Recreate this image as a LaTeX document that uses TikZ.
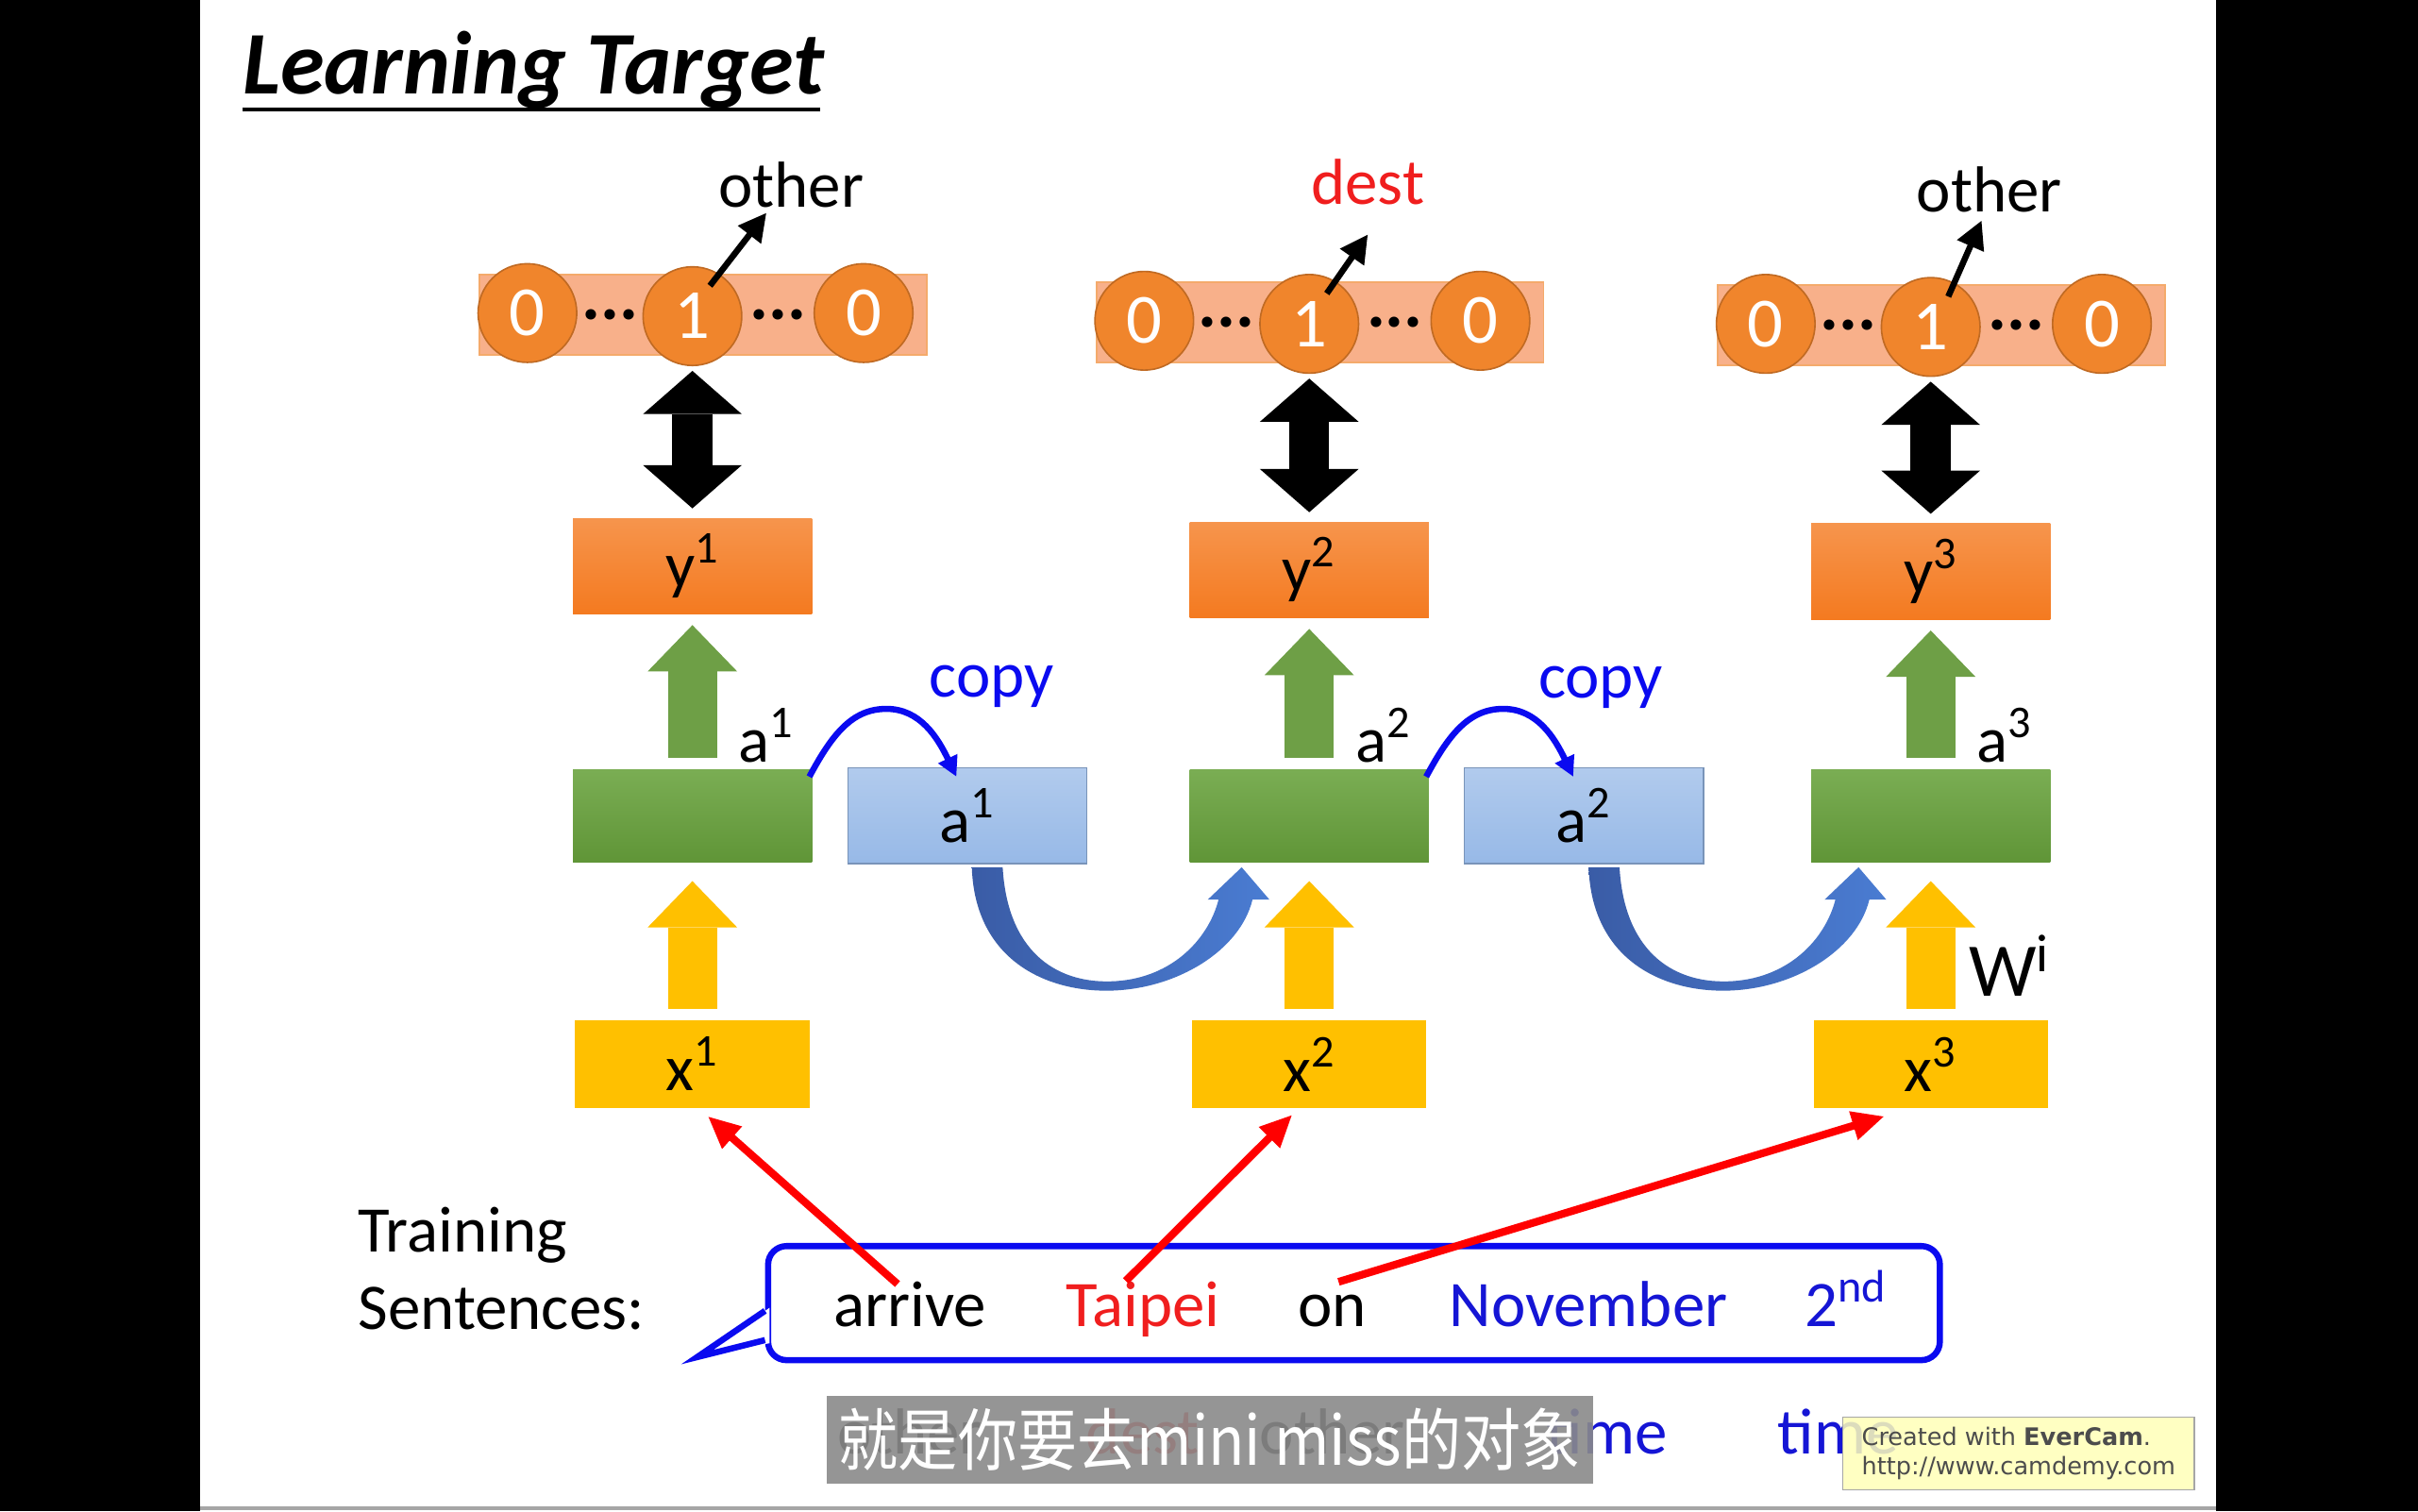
\documentclass[tikz,border=0pt]{standalone}
\usepackage{fontspec}
\setmainfont{Carlito}
\newfontfamily\cjkfont{Noto Sans CJK SC}
\newfontfamily\markfont{DejaVu Sans}
\usetikzlibrary{arrows.meta,positioning,calc}

\definecolor{vecpink}{HTML}{F8B08A}
\definecolor{vecorange}{HTML}{F0852C}
\definecolor{outorange}{HTML}{F47A20}
\definecolor{hidgreen}{HTML}{68A23C}
\definecolor{memblue}{HTML}{97B9E7}
\definecolor{ingold}{HTML}{FFC000}
\definecolor{arrowgreen}{HTML}{6E9F46}
\definecolor{loopdark}{HTML}{3A5CA6}
\definecolor{looplight}{HTML}{4A7CD2}
\definecolor{copyblue}{HTML}{0A0AF0}
\definecolor{wordblue}{HTML}{1515D5}
\definecolor{wordred}{HTML}{F01E1E}
\definecolor{subgray}{HTML}{8A8A8A}
\definecolor{markyellow}{HTML}{FFFFB8}

\begin{document}
\begin{tikzpicture}[x=0.02cm, y=-0.02cm,
    slidetext/.style={font=\fontsize{24}{28}\selectfont, inner sep=0pt},
    word/.style={slidetext, anchor=base},
    titletext/.style={font=\fontsize{33}{40}\selectfont\bfseries\itshape, inner sep=0pt},
    strip/.style={rectangle, fill=vecpink, draw=vecorange!70, line width=0.02cm, minimum width=5.8cm, minimum height=1.04cm, inner sep=0pt},
    bit/.style={circle, fill=vecorange, draw=vecorange!80!black, line width=0.02cm, minimum size=1.28cm, inner sep=0pt, text=white, font=\fontsize{26}{30}\selectfont},
    dotsym/.style={font=\fontsize{26}{30}\selectfont\bfseries, inner sep=0pt},
    outbox/.style={rectangle, minimum width=3.1cm, minimum height=1.24cm, top color=outorange!80!white, bottom color=outorange, slidetext},
    hidbox/.style={rectangle, minimum width=3.1cm, minimum height=1.2cm, top color=hidgreen!88!white, bottom color=hidgreen!92!black},
    membox/.style={rectangle, minimum width=3.1cm, minimum height=1.24cm, top color=memblue!75!white, bottom color=memblue, draw=memblue!80!black, line width=0.015cm, slidetext},
    inbox/.style={rectangle, minimum width=3.04cm, minimum height=1.14cm, fill=ingold, slidetext},
    ptr/.style={-{Triangle[length=0.36cm,width=0.36cm]}, line width=0.08cm},
    dblarrow/.style={{Triangle[length=0.56cm,width=1.28cm,line width=0pt]}-{Triangle[length=0.56cm,width=1.28cm,line width=0pt]}, line width=0.52cm},
    uparrow/.style={-{Triangle[length=0.6cm,width=1.16cm,line width=0pt]}, line width=0.64cm},
    copyarrow/.style={-{Triangle[length=0.26cm,width=0.26cm]}, line width=0.08cm, draw=copyblue},
    bigloop/.style={left color=loopdark, right color=looplight},
    redarrow/.style={-{Triangle[length=0.42cm,width=0.36cm]}, line width=0.1cm, draw=red},
    callout/.style={rectangle, rounded corners=0.24cm, draw=copyblue, line width=0.08cm, fill=white},
    subbox/.style={rectangle, fill=subgray, fill opacity=0.9, text opacity=1, text=white, minimum width=9.94cm, minimum height=1.14cm, inner sep=0pt, font=\cjkfont\fontsize{25}{28}\selectfont},
    markbox/.style={rectangle, fill=markyellow, fill opacity=0.85, text opacity=1, draw=black!35, line width=0.02cm, minimum width=4.56cm, minimum height=0.94cm, inner sep=0pt, align=left, text=black!70, font=\markfont\fontsize{8.9}{10.8}\selectfont}]

    % Slide frame
    \fill[black] (0,0) rectangle (1568,980);
    \fill[white] (130,0) rectangle (1437,980);
    \draw[gray!70, line width=0.04cm] (130,978) -- (1437,978);
    \useasboundingbox (0,0) rectangle (1568,980);

    % Title
    \node[titletext, anchor=base west] (title) at (157,61) {Learning Target};
    \draw[line width=0.06cm] (157,71) -- (532,71);

    % Columns: targets, outputs, hidden layer, inputs
    \foreach \k/\c/\dy/\word/\wcol/\lx/\ly/\tx/\ty in {1/449/0/other/black/513/120/497/138, 2/849/5/dest/wordred/887/118/887/152, 3/1252/7/other/black/1290/123/1285/143} {
        \node[strip] (vec\k) at (\c+7,204+\dy) {};
        \node[bit] (zl\k) at (\c-107,203+\dy) {0};
        \node[bit] (one\k) at (\c,205+\dy) {1};
        \node[bit] (zr\k) at (\c+111,203+\dy) {0};
        \node[dotsym] (dl\k) at ($(zl\k)!0.5!(one\k)$) {...};
        \node[dotsym] (dr\k) at ($(one\k)!0.5!(zr\k)$) {...};
        \node[slidetext, text=\wcol] (lab\k) at (\lx,\ly) {\word};
        \coordinate (tip\k) at (\tx,\ty);
        \draw[ptr] ($(one\k)!0.7!(one\k.60)$) -- (tip\k);
        \node[outbox] (y\k) at (\c,367+0.5*\dy) {y\textsuperscript{\k}};
        \draw[dblarrow] ($(one\k.south)+(0,3)$) -- ($(y\k.north)+(0,-6)$);
        \node[hidbox] (g\k) at (\c,529) {};
        \node[slidetext] (a\k) at ($(g\k.north)+(48,-22)$) {a\textsuperscript{\k}};
        \draw[uparrow, draw=arrowgreen] ($(g\k.north)+(0,-7)$) -- ($(y\k.south)+(0,7)$);
        \node[inbox] (x\k) at (\c,690) {x\textsuperscript{\k}};
        \draw[uparrow, draw=ingold] ($(x\k.north)+(0,-7)$) -- ($(g\k.south)+(0,12)$);
    }

    % Memory cells
    \foreach \k/\cx/\cy in {1/643/445, 2/1038/446} {
        \node[membox, right=0.45cm of g\k] (mem\k) {a\textsuperscript{\k}};
        \node[slidetext, text=copyblue] (cp\k) at (\cx,\cy) {copy};
        \draw[copyarrow] ($(g\k.north east)+(-2,5)$) .. controls +(15,-28) and +(-22,0) .. ($(g\k.north east)+(48,-39)$) .. controls +(22,0) and +(-12,-25) .. ($(mem\k.north)+(-7,6)$);
        \begin{scope}[shift={(mem\k.south)}]
            \path[bigloop] (3,2) .. controls (5,62) and (51,83) .. (93,82) .. controls (136,81) and (177,56) .. (185,23) -- (196,23) -- (178,2) -- (156,23) -- (163,23) .. controls (156,50) and (131,75) .. (93,76) .. controls (56,77) and (26,55) .. (23,2) -- cycle;
        \end{scope}
    }

    \node[slidetext, font=\fontsize{28}{32}\selectfont] (wi) at ($(x3.north)+(51,-35)$) {W\textsuperscript{i}};

    % Training sentence
    \node[word, anchor=base west] (train) at (232,812) {Training};
    \node[word, anchor=base west] (sentlab) at (232,862) {Sentences:};
    \node[callout, minimum width=15.2cm, minimum height=1.48cm] (sentbox) at (878,845) {};
    \fill[white] ($(sentbox.west)+(3,3)$) -- ($(sentbox.west)+(-44,35)$) -- ($(sentbox.west)+(3,26)$) -- cycle;
    \draw[draw=copyblue, line width=0.08cm, line join=miter] ($(sentbox.west)+(0,5)$) -- ($(sentbox.west)+(-44,35)$) -- ($(sentbox.west)+(0,24)$);
    \node[word] (w1) at (590,860) {arrive};
    \node[word, text=wordred] (w2) at (741,860) {Taipei};
    \node[word] (w3) at (864,860) {on};
    \node[word, text=wordblue] (w4) at (1030,860) {November};
    \node[word, text=wordblue] (w5) at (1197,860) {2\textsuperscript{nd}};

    \draw[redarrow] ($(w1.north)+(-8,2)$) -- ($(x1.south)+(10,5)$);
    \draw[redarrow] ($(w2.north)+(-11,0)$) -- ($(x2.south)+(-11,4)$);
    \draw[redarrow] ($(w3.north)+(4,-8)$) -- ($(x3.south)+(-30,5)$);

    % Slot labels (partly hidden)
    \foreach \w/\x/\col [count=\i] in {other/590/black, dest/741/wordred, other/864/black, time/1042/wordblue, time/1192/wordblue} {
        \node[word, text=\col] (tag\i) at (\x,943) {\w};
    }

    % Subtitle and watermark
    \node[subbox] (sub) at (784.5,933.5) {\scalebox{0.88}[1]{就是你要去mini miss的对象}};
    \node[markbox] (mark) at (1309,942.5) {Created with \textbf{EverCam}.\\http://www.camdemy.com};
\end{tikzpicture}
\end{document}
